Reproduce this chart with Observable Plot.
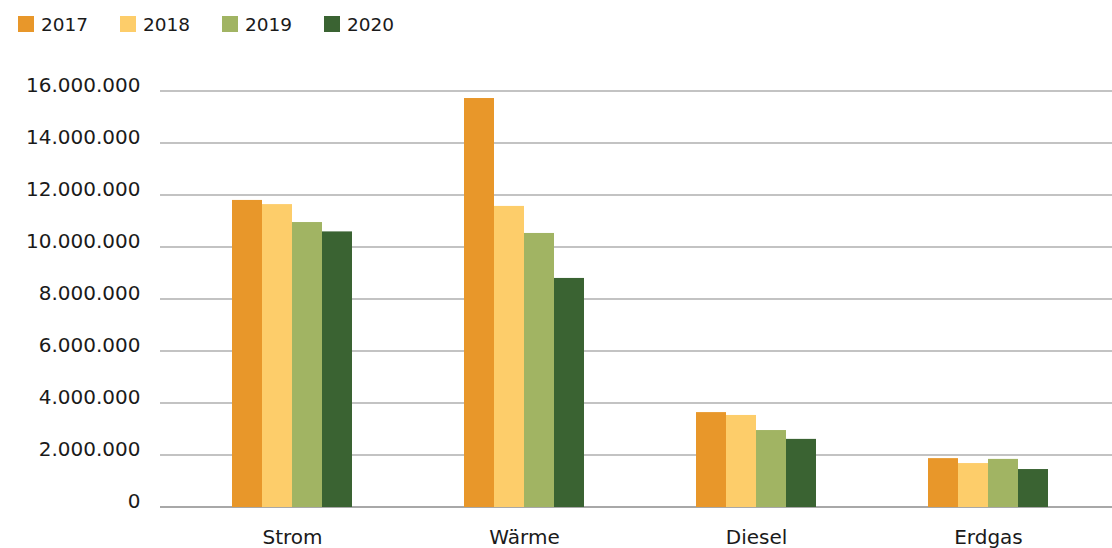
<!DOCTYPE html>
<html>
<head>
<meta charset="utf-8">
<script src="https://cdn.jsdelivr.net/npm/d3@7"></script>
<script src="https://cdn.jsdelivr.net/npm/@observablehq/plot@0.6"></script>
<style>
  body { margin: 0; background: #fff; font-family: "DejaVu Sans", Verdana, sans-serif; }
  #legend { position: relative; height: 48px; width: 1112px; }
  .item { position: absolute; top: 12px; height: 24px; display: flex; align-items: center; font-size: 18.5px; color: #1a1a1a; }
  .sw { width: 16px; height: 16px; margin-right: 7px; }
</style>
</head>
<body>
<div id="legend"></div>
<div id="chart"></div>
<script>
// Energy consumption by carrier, 2017–2020
const categories = ["Strom", "Wärme", "Diesel", "Erdgas"];
const years = ["2017", "2018", "2019", "2020"];
const colors = ["#e8972a", "#fdcd6a", "#a1b463", "#3a6332"];
const v2017 = [11810000, 15730000, 3650000, 1880000];
const v2018 = [11650000, 11580000, 3540000, 1690000];
const v2019 = [10960000, 10540000, 2960000, 1850000];
const v2020 = [10600000, 8810000, 2620000, 1460000];
const yTicks = [0, 2000000, 4000000, 6000000, 8000000, 10000000, 12000000, 14000000, 16000000];

const series = [v2017, v2018, v2019, v2020];
const data = [];
categories.forEach((c, i) => years.forEach((y, j) => data.push({category: c, year: y, value: series[j][i]})));

// German number formatting: 16.000.000
const fmt = d3.formatLocale({decimal: ",", thousands: ".", grouping: [3], currency: ["", "€"]}).format(",d");

// Legend row
const legend = d3.select("#legend");
years.forEach((y, i) => {
  const item = legend.append("div").attr("class", "item").style("left", (18 + i * 102) + "px");
  item.append("div").attr("class", "sw").style("background", colors[i]);
  item.append("span").text(y);
});

// Horizontal gridlines, one rule mark per category panel so neighbouring panels don't overlap;
// the outer panels stretch a little past the band range.
const gridMarks = categories.map((c, i) => {
  const rows = yTicks.map(t => ({category: c, tick: t}));
  return [
    Plot.ruleY(rows.filter(d => d.tick > 0), {fx: "category", y: "tick", stroke: "#c3c3c3", strokeWidth: 2, dy: -0.5,
      insetLeft: i === 0 ? -16 : 0, insetRight: i === categories.length - 1 ? -8 : 0}),
    Plot.ruleY(rows.filter(d => d.tick === 0), {fx: "category", y: "tick", stroke: "#a8a8a8", strokeWidth: 2, dy: -0.5,
      insetLeft: i === 0 ? -16 : 0, insetRight: i === categories.length - 1 ? -8 : 0})
  ];
});

const chart = Plot.plot({
  width: 1112,
  height: 500,
  marginLeft: 176,
  marginRight: 8,
  marginTop: 43,
  marginBottom: 41,
  style: {fontFamily: '"DejaVu Sans", Verdana, sans-serif', fontSize: "20px", color: "#1a1a1a", background: "#fff", overflow: "visible"},
  fx: {domain: categories, padding: 0, label: null, axis: "bottom", tickSize: 0, tickPadding: 22},
  x: {domain: years, paddingInner: 0, paddingOuter: 1.8, axis: null},
  y: {domain: [0, 16000000], axis: null},
  color: {domain: years, range: colors},
  marks: [
    ...gridMarks.flat(),
    Plot.barY(data, {fx: "category", x: "year", y: "value", fill: "year"}),
    Plot.axisY(yTicks, {tickFormat: fmt, tickSize: 0, tickPadding: 36, dy: -6, label: null, fontSize: 20})
  ]
});
document.getElementById("chart").appendChild(chart);
</script>
</body>
</html>
